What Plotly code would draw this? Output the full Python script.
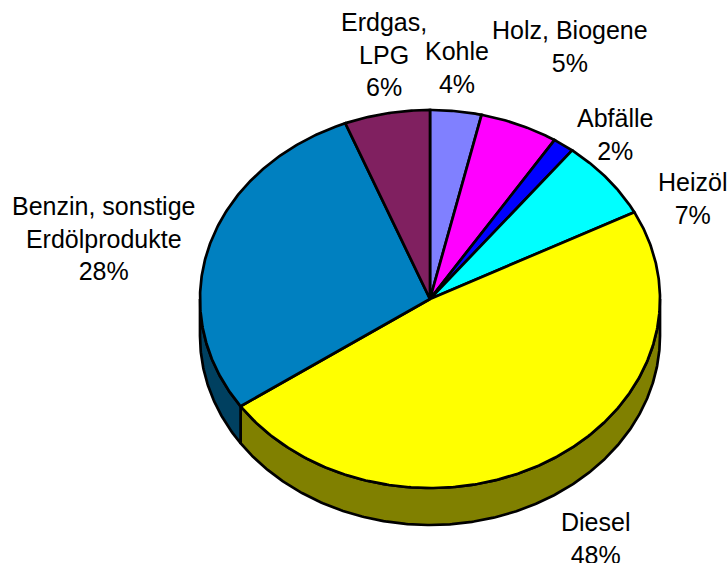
import numpy as np
import plotly.graph_objects as go

# Data
categories = ["Kohle", "Holz, Biogene", "Abfälle", "Heizöl", "Diesel",
              "Benzin, sonstige<br>Erdölprodukte", "Erdgas,<br>LPG"]
shares = [3.6, 5.5, 1.5, 6.8, 48.0, 28.6, 6.0]
shown_percent = ["4%", "5%", "2%", "7%", "48%", "28%", "6%"]
top_colors = ["#8080FF", "#FF00FF", "#0000FF", "#00FFFF", "#FFFF00", "#0080C0", "#802060"]
side_colors = ["#404080", "#800080", "#000080", "#008080", "#808000", "#004060", "#401030"]
label_xy = [(457, 67), (570, 46), (615, 134), (692, 198), (595, 538), (103, 238), (384, 54)]

# Geometry of the tilted pie, in page pixels
W, H = 727, 563
CX, CY, RX, RY, DEPTH = 430, 299, 230, 189, 37
LW = 2.7
INK = "#000000"


def rim(t0, t1):
    t = np.radians(np.linspace(t0, t1, max(int(abs(t1 - t0) * 2), 2)))
    return CX + RX * np.sin(t), CY - RY * np.cos(t)


fig = go.Figure()


def poly(x, y, fill):
    fig.add_trace(go.Scatter(x=x, y=y, mode="lines", fill="toself", fillcolor=fill,
                             line=dict(color=INK, width=LW), hoverinfo="skip",
                             showlegend=False))


edges = np.concatenate([[0], np.cumsum(shares)]) / sum(shares) * 360

# Side wall (only the near half, clock angles 90..270, is visible)
for i, color in enumerate(side_colors):
    a, b = max(edges[i], 90), min(edges[i + 1], 270)
    if b <= a:
        continue
    x, y = rim(a, b)
    poly(np.concatenate([x, x[::-1], x[:1]]),
         np.concatenate([y, y[::-1] + DEPTH, y[:1]]), color)

# Top face
for i, color in enumerate(top_colors):
    x, y = rim(edges[i], edges[i + 1])
    poly(np.concatenate([[CX], x, [CX]]), np.concatenate([[CY], y, [CY]]), color)

# Labels
for name, pct, (lx, ly) in zip(categories, shown_percent, label_xy):
    fig.add_annotation(x=lx, y=ly, text=f"{name}<br>{pct}", showarrow=False,
                       xanchor="center", yanchor="middle", align="center",
                       font=dict(family="Liberation Sans", size=25, color="#000000"))

fig.update_xaxes(range=[0, W], visible=False, fixedrange=True)
fig.update_yaxes(range=[H, 0], visible=False, fixedrange=True)
fig.update_layout(width=W, height=H, margin=dict(l=0, r=0, t=0, b=0),
                  paper_bgcolor="white", plot_bgcolor="white", showlegend=False)
fig.write_html("out.html", config={"displayModeBar": False},
               post_script="document.body.style.margin='0';document.body.style.overflow='hidden';")
